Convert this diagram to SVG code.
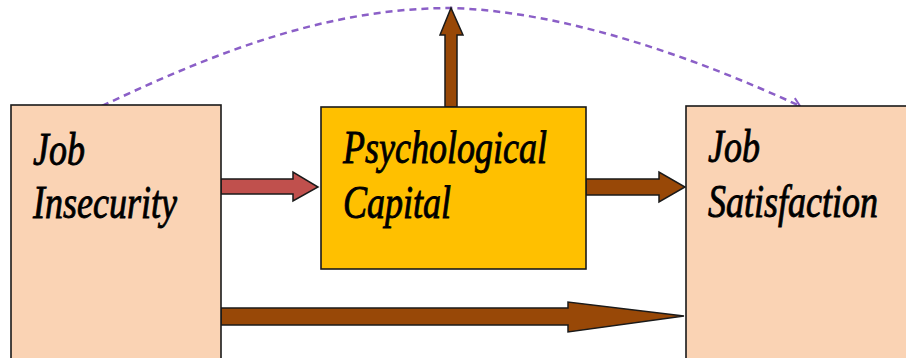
<svg xmlns="http://www.w3.org/2000/svg" width="906" height="358" viewBox="0 0 906 358">
<defs>
<style>
.box{stroke:#1a1a1a;stroke-width:1.6}
.peach{fill:#fad3b4}
.gold{fill:#ffc000}
.lbl{font-family:"Liberation Serif","Times New Roman",serif;font-style:italic;font-size:36px;fill:#000;stroke:#000;stroke-width:0.7}
.arr{stroke:#1a1a1a;stroke-width:1.5;stroke-linejoin:miter}
.brown{fill:#984807}
.red{fill:#c0504d}
.dash{fill:none;stroke:#8b5fc7;stroke-width:2.5;stroke-dasharray:7 5}
</style>
<marker id="open" viewBox="0 0 12 12" refX="10" refY="6" markerWidth="12" markerHeight="12" markerUnits="userSpaceOnUse" orient="auto">
<path d="M2,1 L10,6 L2,11" fill="none" stroke="#8b5fc7" stroke-width="2"/>
</marker>
</defs>
<rect width="906" height="358" fill="#fff"/>
<g id="connectors">
<path class="dash" d="M102,106 C220,50 330,8 452,8 C570,12 700,60 800,106" marker-end="url(#open)"/>
<polygon class="arr red" points="221,179 293,179 293,172 318,187 293,201 293,194 221,194"/>
<polygon class="arr brown" points="586,179 659,179 659,172 685,187 659,202 659,195 586,195"/>
<polygon class="arr brown" points="445,107 445,35 440,35 451,8 463,35 457,35 457,107"/>
<polygon class="arr brown" points="221,308 568,308 568,302 684,316 568,332 568,325 221,325"/>
</g>
<g id="job-insecurity">
<rect class="box peach" x="11" y="105" width="210" height="260"/>
<text class="lbl" transform="translate(33,165) scale(1,1.3)">Job</text>
<text class="lbl" transform="translate(33,218) scale(1,1.3)">Insecurity</text>
</g>
<g id="psychological-capital">
<rect class="box gold" x="321" y="107" width="265" height="162"/>
<text class="lbl" transform="translate(343,163) scale(1,1.3)">Psychological</text>
<text class="lbl" transform="translate(343,218) scale(1,1.3)">Capital</text>
</g>
<g id="job-satisfaction">
<rect class="box peach" x="686" y="106" width="240" height="260"/>
<text class="lbl" transform="translate(708,162) scale(1,1.3)">Job</text>
<text class="lbl" transform="translate(708,217) scale(1,1.3)">Satisfaction</text>
</g>
</svg>
